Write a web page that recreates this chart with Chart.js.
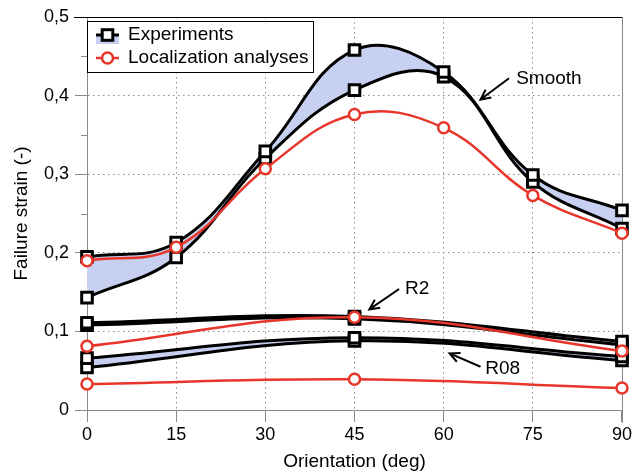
<!DOCTYPE html>
<html>
<head>
<meta charset="utf-8">
<script src="https://cdn.jsdelivr.net/npm/chart.js@4.4.0/dist/chart.umd.min.js"></script>
<style>
  html, body { margin: 0; padding: 0; background: #fff; }
  #wrap { width: 634px; height: 474px; }
</style>
</head>
<body>
<div id="wrap"><canvas id="strainChart" width="634" height="474"></canvas></div>
<script>
// orientation angles (deg)
const angles = [0, 15, 30, 45, 60, 75, 90];
const anglesR = [0, 45, 90];

// smooth specimens
const expSmoothHi = [0.195, 0.213, 0.329, 0.458, 0.430, 0.299, 0.254];
const expSmoothLo = [0.143, 0.194, 0.320, 0.407, 0.424, 0.290, 0.231];
const locSmooth = [0.190, 0.207, 0.307, 0.376, 0.359, 0.273, 0.225];

// notched R2
const expR2Hi = [0.111, 0.119, 0.087];
const expR2Lo = [0.108, 0.116, 0.083];
const locR2 = [0.081, 0.118, 0.075];

// notched R08
const expR08Hi = [0.066, 0.092, 0.068];
const expR08Lo = [0.054, 0.088, 0.063];
const locR08 = [0.033, 0.039, 0.028];

const yTicks = [0, 0.1, 0.2, 0.3, 0.4, 0.5];
const xTicks = [0, 15, 30, 45, 60, 75, 90];

const FONT = "'Liberation Sans', Arial, Helvetica, sans-serif";
const RED = "#e8352a";
const BLUE_FILL = "rgb(200, 208, 241)";
const GRID = "#8a8a8a";

function pts(xs, ys) {
    return xs.map((x, i) => ({ x: x, y: ys[i] }));
}

function expSet(xs, ys, fillTo) {
    return {
        data: pts(xs, ys),
        borderColor: "#000",
        borderWidth: 3,
        backgroundColor: BLUE_FILL,
        fill: fillTo === undefined ? false : { target: fillTo },
        pointStyle: "rect",
        pointRadius: 7.5,
        pointBorderWidth: 3,
        pointBorderColor: "#000",
        pointBackgroundColor: "#fff",
        tension: 0.4,
        clip: false,
        order: 1,
    };
}

function locSet(xs, ys) {
    return {
        data: pts(xs, ys),
        borderColor: RED,
        borderWidth: 2.5,
        fill: false,
        pointStyle: "circle",
        pointRadius: 5.5,
        pointBorderWidth: 2.5,
        pointBorderColor: RED,
        pointBackgroundColor: "#fff",
        tension: 0.4,
        clip: false,
        order: 0,
    };
}

// frame, minor ticks, legend and labels
const framePlugin = {
    id: "frame",
    beforeDatasetsDraw(chart) {
        const ctx = chart.ctx;
        const a = chart.chartArea;
        const ys = chart.scales.y;
        ctx.save();
        ctx.lineWidth = 1;
        ctx.strokeStyle = "#000";
        ctx.beginPath();
        ctx.moveTo(a.left - 13, Math.round(a.top) + 0.5);
        ctx.lineTo(a.right, Math.round(a.top) + 0.5);
        ctx.stroke();
        ctx.strokeStyle = GRID;
        ctx.beginPath();
        ctx.moveTo(Math.round(a.right) + 0.5, a.top);
        ctx.lineTo(Math.round(a.right) + 0.5, a.bottom + 13);
        ctx.stroke();
        // minor ticks on y
        for (let v = 0.05; v < 0.5; v += 0.1) {
            const py = Math.round(ys.getPixelForValue(v)) + 0.5;
            ctx.beginPath();
            ctx.moveTo(a.left - 6, py);
            ctx.lineTo(a.left, py);
            ctx.stroke();
        }
        ctx.restore();
    },
    afterDraw(chart) {
        const ctx = chart.ctx;
        const xs = chart.scales.x;
        const ys = chart.scales.y;
        ctx.save();

        // legend
        const lx = 87.5, ly = 21.5, lw = 226, lh = 51;
        ctx.fillStyle = "#fff";
        ctx.fillRect(lx, ly, lw, lh);
        ctx.strokeStyle = "#000";
        ctx.lineWidth = 1;
        ctx.strokeRect(lx, ly, lw, lh);

        const mx = 107.5;
        const row1 = 35, row2 = 58;
        ctx.fillStyle = BLUE_FILL;
        ctx.fillRect(96, row1 + 1, 23, 8);
        ctx.strokeStyle = "#000";
        ctx.lineWidth = 3;
        ctx.beginPath();
        ctx.moveTo(96, row1);
        ctx.lineTo(119, row1);
        ctx.stroke();
        ctx.fillStyle = "#fff";
        ctx.fillRect(mx - 5.3, row1 - 5.3, 10.6, 10.6);
        ctx.strokeRect(mx - 5.3, row1 - 5.3, 10.6, 10.6);

        ctx.strokeStyle = RED;
        ctx.lineWidth = 2.5;
        ctx.beginPath();
        ctx.moveTo(96, row2);
        ctx.lineTo(119, row2);
        ctx.stroke();
        ctx.beginPath();
        ctx.arc(mx, row2, 5.5, 0, Math.PI * 2);
        ctx.fillStyle = "#fff";
        ctx.fill();
        ctx.stroke();

        ctx.fillStyle = "#000";
        ctx.font = "19px " + FONT;
        ctx.textBaseline = "middle";
        ctx.textAlign = "left";
        ctx.fillText("Experiments", 128, row1);
        ctx.fillText("Localization analyses", 128, row2);

        // annotations: label + arrow (data coordinates)
        const notes = [
            { text: "Smooth", tx: 72.2, ty: 0.422, fx: 71.0, fy: 0.422, hx: 66.2, hy: 0.395 },
            { text: "R2", tx: 53.5, ty: 0.154, fx: 52.5, fy: 0.154, hx: 47.5, hy: 0.128 },
            { text: "R08", tx: 67.0, ty: 0.052, fx: 66.2, fy: 0.055, hx: 61.0, hy: 0.072 },
        ];
        notes.forEach(n => {
            const x1 = xs.getPixelForValue(n.fx), y1 = ys.getPixelForValue(n.fy);
            const x2 = xs.getPixelForValue(n.hx), y2 = ys.getPixelForValue(n.hy);
            ctx.strokeStyle = "#000";
            ctx.lineWidth = 2;
            ctx.beginPath();
            ctx.moveTo(x1, y1);
            ctx.lineTo(x2, y2);
            const ang = Math.atan2(y2 - y1, x2 - x1);
            const hl = 11, hw = 0.45;
            ctx.moveTo(x2 - hl * Math.cos(ang - hw), y2 - hl * Math.sin(ang - hw));
            ctx.lineTo(x2, y2);
            ctx.lineTo(x2 - hl * Math.cos(ang + hw), y2 - hl * Math.sin(ang + hw));
            ctx.stroke();
            ctx.fillStyle = "#000";
            ctx.fillText(n.text, xs.getPixelForValue(n.tx), ys.getPixelForValue(n.ty));
        });
        ctx.restore();
    }
};

const ctx = document.getElementById("strainChart").getContext("2d");
new Chart(ctx, {
    type: "line",
    data: {
        datasets: [
            expSet(angles, expSmoothHi, 1),
            expSet(angles, expSmoothLo),
            expSet(anglesR, expR2Hi, 3),
            expSet(anglesR, expR2Lo),
            expSet(anglesR, expR08Hi, 5),
            expSet(anglesR, expR08Lo),
            locSet(angles, locSmooth),
            locSet(anglesR, locR2),
            locSet(anglesR, locR08),
        ],
    },
    options: {
        responsive: false,
        animation: false,
        layout: { padding: { top: 17, right: 12, left: 0, bottom: 0 } },
        plugins: {
            legend: { display: false },
            tooltip: { enabled: false },
            filler: { drawTime: "beforeDatasetsDraw" },
        },
        scales: {
            x: {
                type: "linear",
                min: 0,
                max: 90,
                afterFit: s => { s.height = 64; },
                afterBuildTicks: s => { s.ticks = xTicks.map(v => ({ value: v })); },
                ticks: {
                    color: "#000",
                    font: { family: FONT, size: 18 },
                    padding: 2,
                    maxRotation: 0,
                },
                grid: {
                    color: c => (c.tick && c.tick.value > 0 && c.tick.value < 90) ? GRID : "transparent",
                    tickColor: GRID,
                    tickLength: 12,
                    lineWidth: 1,
                },
                border: { color: GRID, width: 1, dash: [1.5, 3.5] },
                title: {
                    display: true,
                    text: "Orientation (deg)",
                    color: "#000",
                    font: { family: FONT, size: 19 },
                    padding: { top: 0, bottom: 1 },
                },
            },
            y: {
                type: "linear",
                min: 0,
                max: 0.5,
                afterFit: s => { s.width = 87; },
                afterBuildTicks: s => { s.ticks = yTicks.map(v => ({ value: v })); },
                ticks: {
                    color: "#000",
                    font: { family: FONT, size: 18 },
                    padding: 6,
                    callback: v => v === 0 ? "0" : v.toFixed(1).replace(".", ","),
                },
                grid: {
                    color: c => (c.tick && c.tick.value > 0.001 && c.tick.value < 0.499) ? GRID : "transparent",
                    tickColor: GRID,
                    tickLength: 12,
                    lineWidth: 1,
                },
                border: { color: GRID, width: 1, dash: [1.5, 3.5] },
                title: {
                    display: true,
                    text: "Failure strain (-)",
                    color: "#000",
                    font: { family: FONT, size: 19 },
                    padding: { top: 10, bottom: 0 },
                },
            },
        },
    },
    plugins: [framePlugin],
});
</script>
</body>
</html>
